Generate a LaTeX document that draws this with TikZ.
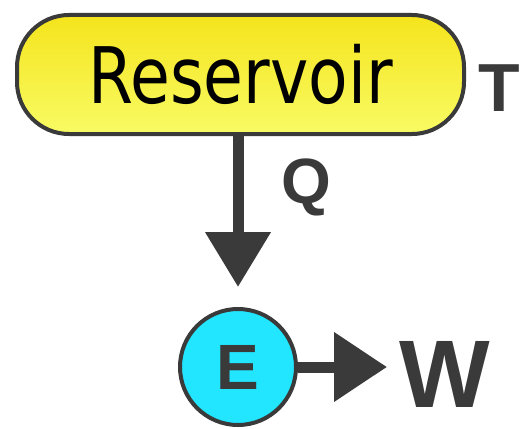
\documentclass[tikz,border=0pt]{standalone}
\usepackage{fontspec}
\usepackage{graphicx}
\setmainfont{DejaVu Sans}
\newfontfamily\labfont{Liberation Sans}
\usetikzlibrary{arrows.meta}
\definecolor{ink}{HTML}{3A3A3A}
\definecolor{ytop}{HTML}{F5E41C}
\definecolor{ybot}{HTML}{F8FB64}
\definecolor{cyanfill}{HTML}{22E5FF}
\begin{document}
\begin{tikzpicture}[x=1pt,y=-1pt,
  resbox/.style={draw=ink, line width=4pt, rounded corners=52pt,
    top color=ytop, bottom color=ybot, minimum width=447pt, minimum height=119pt,
    inner sep=0pt, font=\fontsize{78}{80}\selectfont},
  engine/.style={circle, draw=ink, line width=4pt, fill=cyanfill, minimum size=116pt,
    inner sep=0pt, text=ink, font=\labfont\bfseries\fontsize{64}{66}\selectfont},
  lab/.style={inner sep=0pt, text=ink, font=\labfont\bfseries},
  flowdown/.style={draw=ink, line width=11pt, -{Triangle[length=55pt,width=63pt]}},
  flowright/.style={draw=ink, line width=11pt, -{Triangle[length=53pt,width=67pt]}}]
\useasboundingbox (0,0) rectangle (532,428);
\node[resbox] (res) at (240.5,74.5) {\scalebox{0.83}[1]{Reservoir}};
\node[engine] (E) at (238,367) {E};
\node[lab, anchor=base west, font=\labfont\bfseries\fontsize{68}{70}\selectfont] (T) at (478,111) {T};
\node[lab, anchor=base west, font=\labfont\bfseries\fontsize{64}{66}\selectfont] (Q) at (281,203) {Q};
\node[lab, anchor=base west, font=\labfont\bfseries\fontsize{96}{98}\selectfont] (W) at (399,407) {W};
\draw[flowdown, shorten >=20pt] (res.south -| E.north) -- (E.north);
\draw[flowright, shorten >=12pt] (E.east) -- (W.west |- E.east);
\end{tikzpicture}
\end{document}
